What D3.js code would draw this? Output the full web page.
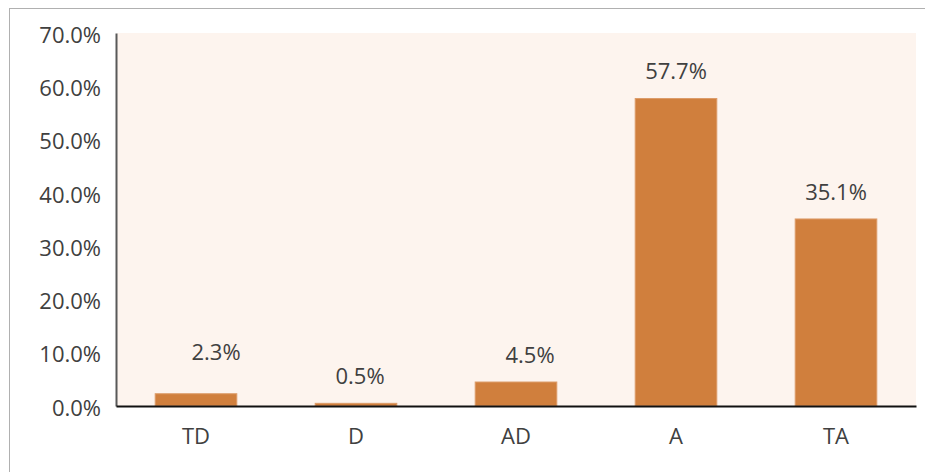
<!DOCTYPE html>
<html>
<head>
<meta charset="utf-8">
<script src="https://cdn.jsdelivr.net/npm/d3@7"></script>
<style>
  body { margin: 0; background: #fff; }
  text { font-family: "Open Sans", "Noto Sans", sans-serif; fill: #404040; }
</style>
</head>
<body>
<svg id="chart" width="925" height="472"></svg>
<script>
// Chart data
var categories = ["TD", "D", "AD", "A", "TA"];
var values     = [2.3, 0.5, 4.5, 57.7, 35.1];
var yTicks     = [0, 10, 20, 30, 40, 50, 60, 70];
// label nudges (the small labels were dragged in the original)
var labelDx    = [20, 4, 14, 0, 0];
var labelDy    = [-14, 0, 0, 0, 0];

var svg    = d3.select('#chart'),
    width  = +svg.attr("width"),
    height = +svg.attr("height"),
    fs     = "22px",
    m      = { top: 33, right: 9, bottom: 66, left: 116 };

// outer frame
svg.append("rect")
    .attr("x", 9.5).attr("y", 8.5)
    .attr("width", width + 20).attr("height", height + 20)
    .attr("fill", "#fff")
    .attr("stroke", "#b0b0b0");

var x = d3.scaleBand()
    .domain(categories)
    .range([m.left, width - m.right])
    .paddingInner(0.49)
    .paddingOuter(0.245);

var y = d3.scaleLinear()
    .domain([0, 70])
    .range([height - m.bottom, m.top]);

// plot background
svg.append("rect")
    .attr("x", m.left + 1).attr("y", m.top)
    .attr("width", width - m.right - m.left - 1)
    .attr("height", y(0) - m.top)
    .attr("fill", "#fdf4ee");

// bars
svg.selectAll(".bar")
    .data(values)
    .enter().append("rect")
    .attr("class", "bar")
    .attr("x", function (d, i) { return x(categories[i]); })
    .attr("y", function (d) { return y(d); })
    .attr("width", x.bandwidth())
    .attr("height", function (d) { return y(0) - y(d); })
    .attr("fill", "#d07f3d")
    .attr("stroke", "#dc9b68")
    .attr("stroke-width", 1);

// value labels
svg.selectAll(".lbl")
    .data(values)
    .enter().append("text")
    .attr("class", "lbl")
    .attr("x", function (d, i) { return x(categories[i]) + x.bandwidth() / 2 + labelDx[i]; })
    .attr("y", function (d, i) { return y(d) - 27 + labelDy[i]; })
    .attr("dy", "0.35em")
    .attr("text-anchor", "middle")
    .style("font-size", fs)
    .text(function (d) { return d.toFixed(1) + "%"; });

// y axis
var yAxis = svg.append("g")
    .attr("transform", "translate(" + m.left + ",0)")
    .call(d3.axisLeft(y).tickValues(yTicks).tickSize(0).tickPadding(15)
        .tickFormat(function (d) { return d.toFixed(1) + "%"; }));
yAxis.select(".domain").attr("stroke", "#595959").attr("stroke-width", 2);
yAxis.selectAll("text").style("font-size", fs).attr("dy", "0.42em");

// x axis
var xAxis = svg.append("g")
    .attr("transform", "translate(0," + y(0) + ")")
    .call(d3.axisBottom(x).tickSize(0).tickPadding(22));
xAxis.select(".domain").attr("stroke", "#111").attr("stroke-width", 2);
xAxis.selectAll("text").style("font-size", fs);
</script>
</body>
</html>
